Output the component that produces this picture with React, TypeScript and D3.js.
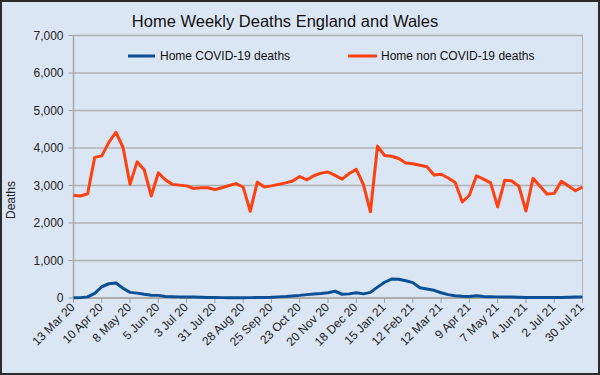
import React from "react";
import * as d3 from "d3";

const tickLabels = ["13 Mar 20","10 Apr 20","8 May 20","5 Jun 20","3 Jul 20","31 Jul 20","28 Aug 20","25 Sep 20","23 Oct 20","20 Nov 20","18 Dec 20","15 Jan 21","12 Feb 21","12 Mar 21","9 Apr 21","7 May 21","4 Jun 21","2 Jul 21","30 Jul 21"];

const covidDeaths = [5,10,30,125,300,380,400,260,150,130,100,75,70,40,35,30,30,25,20,15,12,10,10,10,8,10,12,15,20,30,40,55,70,90,105,120,140,180,100,110,140,110,150,290,420,505,500,460,410,275,240,205,140,90,60,45,40,60,40,35,30,25,25,20,15,15,12,12,12,15,20,25,30];

const nonCovidDeaths = [2740,2720,2780,3750,3790,4150,4420,4020,3030,3630,3420,2720,3340,3150,3030,3010,2990,2920,2940,2940,2890,2940,3000,3050,2960,2310,3090,2960,2990,3030,3070,3120,3240,3150,3260,3330,3360,3270,3170,3320,3430,3030,2300,4050,3800,3780,3720,3600,3580,3540,3500,3280,3300,3200,3080,2560,2740,3260,3170,3070,2430,3140,3120,2980,2320,3190,2980,2770,2790,3110,2990,2860,2960];

const yTicks = [0,1000,2000,3000,4000,5000,6000,7000];

const seriesNames = ["Home COVID-19 deaths", "Home non COVID-19 deaths"];
const colors = ["#0b4f94", "#ff4112"];

export default function App() {
  const W = 600, H = 375;
  const left = 73.5, right = 582.5, top = 35.5, bottom = 298;
  const n = covidDeaths.length;
  const x = d3.scaleLinear().domain([0, n - 1]).range([left, right]);
  const y = d3.scaleLinear().domain([0, 7000]).range([bottom, top]);
  const line = d3.line<number>().x((_, i) => x(i)).y((d) => y(d));
  const fmt = d3.format(",");
  const font = "'Liberation Sans', Arial, sans-serif";
  return (
    <svg width={W} height={H} style={{ position: "absolute", left: 0, top: 0, display: "block" }} fontFamily={font}>
      <rect x={1} y={1} width={W - 2} height={H - 2} fill="#dbe6f5" stroke="#2b2b2b" strokeWidth={2} />
      <text x={285} y={27} textAnchor="middle" fontSize={16.5} fill="#111">Home Weekly Deaths England and Wales</text>
      <rect x={left} y={top} width={right - left} height={bottom - top} fill="none" stroke="#b4b4b4" strokeWidth={1} />
      {yTicks.map((t) => (
        <g key={t}>
          <line x1={left} x2={right} y1={y(t)} y2={y(t)} stroke="#b0b0b0" strokeWidth={1.5} />
          <line x1={left - 5} x2={left} y1={y(t)} y2={y(t)} stroke="#a0a0a0" strokeWidth={1} />
          <text x={left - 10} y={y(t) + 4} textAnchor="end" fontSize={12} fill="#222">{fmt(t)}</text>
        </g>
      ))}
      <line x1={left} x2={left} y1={top} y2={bottom} stroke="#a8a8a8" strokeWidth={1.5} />
      <line x1={left} x2={right} y1={bottom} y2={bottom} stroke="#a8a8a8" strokeWidth={1.5} />
      {tickLabels.map((lab, k) => {
        const xi = x(k * 4);
        return (
          <g key={lab}>
            <line x1={xi} x2={xi} y1={bottom} y2={bottom + 5} stroke="#a0a0a0" strokeWidth={1} />
            <text transform={`translate(${xi + 2},${bottom + 10}) rotate(-45)`} textAnchor="end" fontSize={12} fill="#222">{lab}</text>
          </g>
        );
      })}
      <text transform={`translate(15,200) rotate(-90)`} textAnchor="middle" fontSize={12} fill="#222">Deaths</text>
      <path d={line(nonCovidDeaths) || ""} fill="none" stroke={colors[1]} strokeWidth={3} strokeLinejoin="round" />
      <path d={line(covidDeaths) || ""} fill="none" stroke={colors[0]} strokeWidth={3} strokeLinejoin="round" />
      <line x1={128} x2={155} y1={56} y2={56} stroke={colors[0]} strokeWidth={3} />
      <text x={160} y={60} fontSize={12} fill="#111">{seriesNames[0]}</text>
      <line x1={348} x2={377} y1={56} y2={56} stroke={colors[1]} strokeWidth={3} />
      <text x={381} y={60} fontSize={12} fill="#111">{seriesNames[1]}</text>
    </svg>
  );
}
